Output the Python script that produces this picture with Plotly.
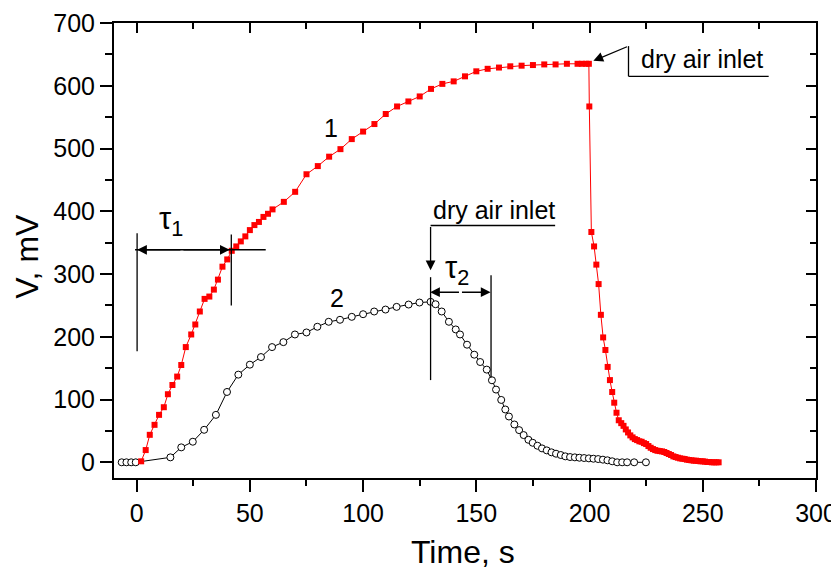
import plotly.graph_objects as go

# ---- data ----
red_t = [2.0, 4.0, 5.8, 7.9, 9.9, 12.0, 13.8, 15.8, 17.9, 19.7, 21.7, 24.1, 25.9, 27.9, 30.0,
         32.1, 34.1, 35.9, 37.9, 40.0, 42.0, 44.0, 46.0, 48.0, 50.0, 52.0, 54.0, 56.0, 58.0, 60.0,
         65, 70, 75, 80, 85, 90, 95, 100, 105, 110, 115, 120, 125, 130, 135, 140, 145, 150, 155,
         160, 165, 170, 175, 180, 185, 190, 194.7, 196.6, 198.5, 199.7,
         199.9, 200.8, 202.0, 203.0, 204.0, 205.0, 206.0, 207.0, 208.0, 209.0, 210.0, 210.9, 211.9, 212.9,
         214, 215, 216, 217, 218, 219, 220, 221, 222, 223, 224, 225, 226, 227, 228, 229, 230,
         231, 232, 233, 234, 235, 236, 237, 238, 239, 240, 241, 242, 243, 244, 245, 246, 247,
         248, 249, 250, 251, 252, 253, 254, 255, 256, 257]
red_v = [1.6, 19.5, 43.8, 59.7, 75.6, 87.8, 108.5, 123.2, 136.6, 155, 183.6, 203.7, 219.6, 240.3, 260.4,
         264.1, 275.2, 291.1, 311.7, 323.3, 337, 344, 352, 360, 370, 378, 383, 391, 396, 403,
         415, 431, 459, 472, 487, 499, 515, 527, 539, 555, 567, 575, 583, 595, 603, 607, 615, 623, 627,
         629, 631, 632, 633, 634, 634, 635, 635, 635, 635, 635,
         567, 367, 344, 315, 284, 235, 199, 179, 152, 131, 112, 95, 79, 67,
         62.4, 58.1, 52.4, 47.6, 42.9, 39.7, 37.0, 35.4, 33.5, 32.7, 30.6, 29.1, 25.9, 23.2, 21.1, 19.5, 18.4,
         17.9, 17.4, 16.4, 14.8, 13.2, 11.6, 9.5, 8.4, 7.3, 6.3, 5.7, 5.2, 4.2, 3.7, 3.2, 2.6, 2.6,
         2.1, 1.6, 1.6, 1.1, 0.5, 0.5, 0.0, 0.0, 0.0, 0.0]

blk_t = [-6.6, -4.5, -2.4, -0.4, 14.9, 19.7, 24.8, 29.8, 35.0, 39.9, 44.9, 50.0, 54.9, 59.8, 64.8,
         69.9, 75.0, 79.8, 84.8, 89.8, 95.0, 100.0, 104.9, 109.9, 114.8, 120.1, 124.9, 129.8, 132.0,
         134.7, 137.9, 140.9, 142.8, 145.9, 149.1, 151.7, 154.6, 156.9, 158.7, 161.0, 162.8, 164.4,
         166.8, 168.9, 170.9, 173.0, 174.9, 177.0, 179.0, 181.1, 183.2, 185.2, 187.3, 189.3, 191.4,
         193.5, 195.5, 197.6, 199.7, 201.7, 203.8, 205.9, 207.9, 210.0, 212.2, 214.4, 216.6, 219.7, 224.9]
blk_v = [0, 0, 0, 0, 7.9, 23.8, 32.8, 51.8, 75.6, 112.1, 139.7, 155.6, 167.7, 183.6, 191.5,
         203.7, 206.9, 216, 223.9, 227.1, 231.8, 236, 240.3, 243.4, 247.7, 251.4, 254.6, 255.7, 251.9,
         240.3, 223.9, 211.7, 203.7, 187.4, 171.5, 159.8, 147.7, 130.7, 115.9, 99.4, 84.2, 73,
         60.3, 51.3, 43.4, 35.9, 31.1, 26.4, 22.2, 19, 15.9, 13.7, 11.6, 9.5, 8.4,
         7.9, 7.3, 6.8, 6.3, 5.7, 5.2, 4.2, 3.2, 1.6, 0, 0, 0, 0, 0]

x_range = [-10, 300]
y_range = [-25, 700]
x_tick_vals = [0, 50, 100, 150, 200, 250, 300]
y_tick_vals = [0, 100, 200, 300, 400, 500, 600, 700]

FONT = "Liberation Sans, Arial, sans-serif"

fig = go.Figure()
fig.add_trace(go.Scatter(x=blk_t, y=blk_v, mode="lines+markers",
                         line=dict(color="black", width=1),
                         marker=dict(symbol="circle", size=7, color="white",
                                     line=dict(color="black", width=1)),
                         showlegend=False, hoverinfo="skip"))
fig.add_trace(go.Scatter(x=red_t, y=red_v, mode="lines+markers",
                         line=dict(color="#ff0000", width=1),
                         marker=dict(symbol="square", size=6, color="#ff0000"),
                         showlegend=False, hoverinfo="skip"))
# invisible trace to anchor the mirrored top/right axes
fig.add_trace(go.Scatter(x=x_range, y=y_range, xaxis="x2", yaxis="y2", mode="markers",
                         marker=dict(opacity=0), showlegend=False, hoverinfo="skip"))

axis_common = dict(showgrid=False, zeroline=False, showline=True, linecolor="black",
                   linewidth=2, tickcolor="black", tickwidth=2, automargin=False,
                   tickfont=dict(family=FONT, size=25, color="black"))

# the page body adds an 8px margin, so the figure is 8px smaller on each axis
fig.update_layout(
    width=831, height=562,
    margin=dict(l=106, r=23, t=15, b=92, autoexpand=False),
    paper_bgcolor="white", plot_bgcolor="white",
    xaxis=dict(range=x_range, tickvals=x_tick_vals, ticks="outside", ticklen=12,
               minor=dict(dtick=25, tick0=0, ticks="outside", ticklen=6, tickwidth=2, tickcolor="black"),
               **axis_common),
    yaxis=dict(range=y_range, tickvals=y_tick_vals, ticks="outside", ticklen=12,
               minor=dict(dtick=50, tick0=0, ticks="outside", ticklen=7, tickwidth=2, tickcolor="black"),
               **axis_common),
    xaxis2=dict(range=x_range, overlaying="x", side="top", anchor="y2", tickvals=x_tick_vals,
                ticks="inside", ticklen=10, showticklabels=False,
                minor=dict(dtick=25, tick0=0, ticks="inside", ticklen=6, tickwidth=2, tickcolor="black"),
                **axis_common),
    yaxis2=dict(range=y_range, overlaying="y", side="right", anchor="x2", tickvals=y_tick_vals,
                ticks="inside", ticklen=10, showticklabels=False,
                minor=dict(dtick=50, tick0=0, ticks="inside", ticklen=6, tickwidth=2, tickcolor="black"),
                **axis_common),
)

LINE = dict(color="black", width=1.3)

def seg(x0, y0, x1, y1):
    fig.add_shape(type="line", xref="x", yref="y", x0=x0, y0=y0, x1=x1, y1=y1, line=LINE)

def arrow(xh, yh, xt, yt):
    fig.add_annotation(x=xh, y=yh, ax=xt, ay=yt, xref="x", yref="y", axref="x", ayref="y",
                       text="", showarrow=True, arrowhead=2, arrowsize=1.5, arrowwidth=1.3,
                       arrowcolor="black", standoff=0)

def label(x, y, text, size, xanchor="center", yanchor="middle"):
    fig.add_annotation(x=x, y=y, xref="x", yref="y", text=text, showarrow=False,
                       xanchor=xanchor, yanchor=yanchor,
                       font=dict(family=FONT, size=size, color="black"))

# tau 1 construction
seg(0.2, 177, 0.2, 365)
seg(41.8, 250, 41.8, 363)
seg(-0.7, 338.7, 57, 338.7)
arrow(0.2, 338.7, 20, 338.7)
arrow(41.1, 338.7, 20, 338.7)
label(9.2, 384, "τ<sub>1</sub>", 31, xanchor="left")

# tau 2 construction
seg(129.8, 131, 129.8, 295)
seg(156.5, 135, 156.5, 298)
arrow(129.6, 271, 143, 271)
arrow(156.3, 271, 143, 271)
label(135.5, 307, "τ<sub>2</sub>", 31, xanchor="left")

# lower "dry air inlet"
seg(129.8, 377.3, 184.8, 377.3)
arrow(129.8, 306, 129.8, 377.3)
label(129.8, 402, "dry air inlet", 25, xanchor="left")

# upper "dry air inlet"
seg(217.2, 663.2, 217.2, 615.1)
seg(217.2, 615.1, 279.1, 615.1)
arrow(201.7, 639.8, 217.2, 663.2)
label(221.8, 643, "dry air inlet", 25, xanchor="left")

# curve labels
label(85.7, 532.6, "1", 25)
label(88.6, 262.5, "2", 25)

# axis titles
fig.add_annotation(x=0.4974, y=-0.1620, xref="paper", yref="paper", text="Time, s",
                   showarrow=False, xanchor="center", yanchor="middle",
                   font=dict(family=FONT, size=32, color="black"))
fig.add_annotation(x=-0.1250, y=0.4867, xref="paper", yref="paper", text="V, mV",
                   showarrow=False, xanchor="center", yanchor="middle", textangle=-90,
                   font=dict(family=FONT, size=32, color="black"))

fig.write_html("out.html")
